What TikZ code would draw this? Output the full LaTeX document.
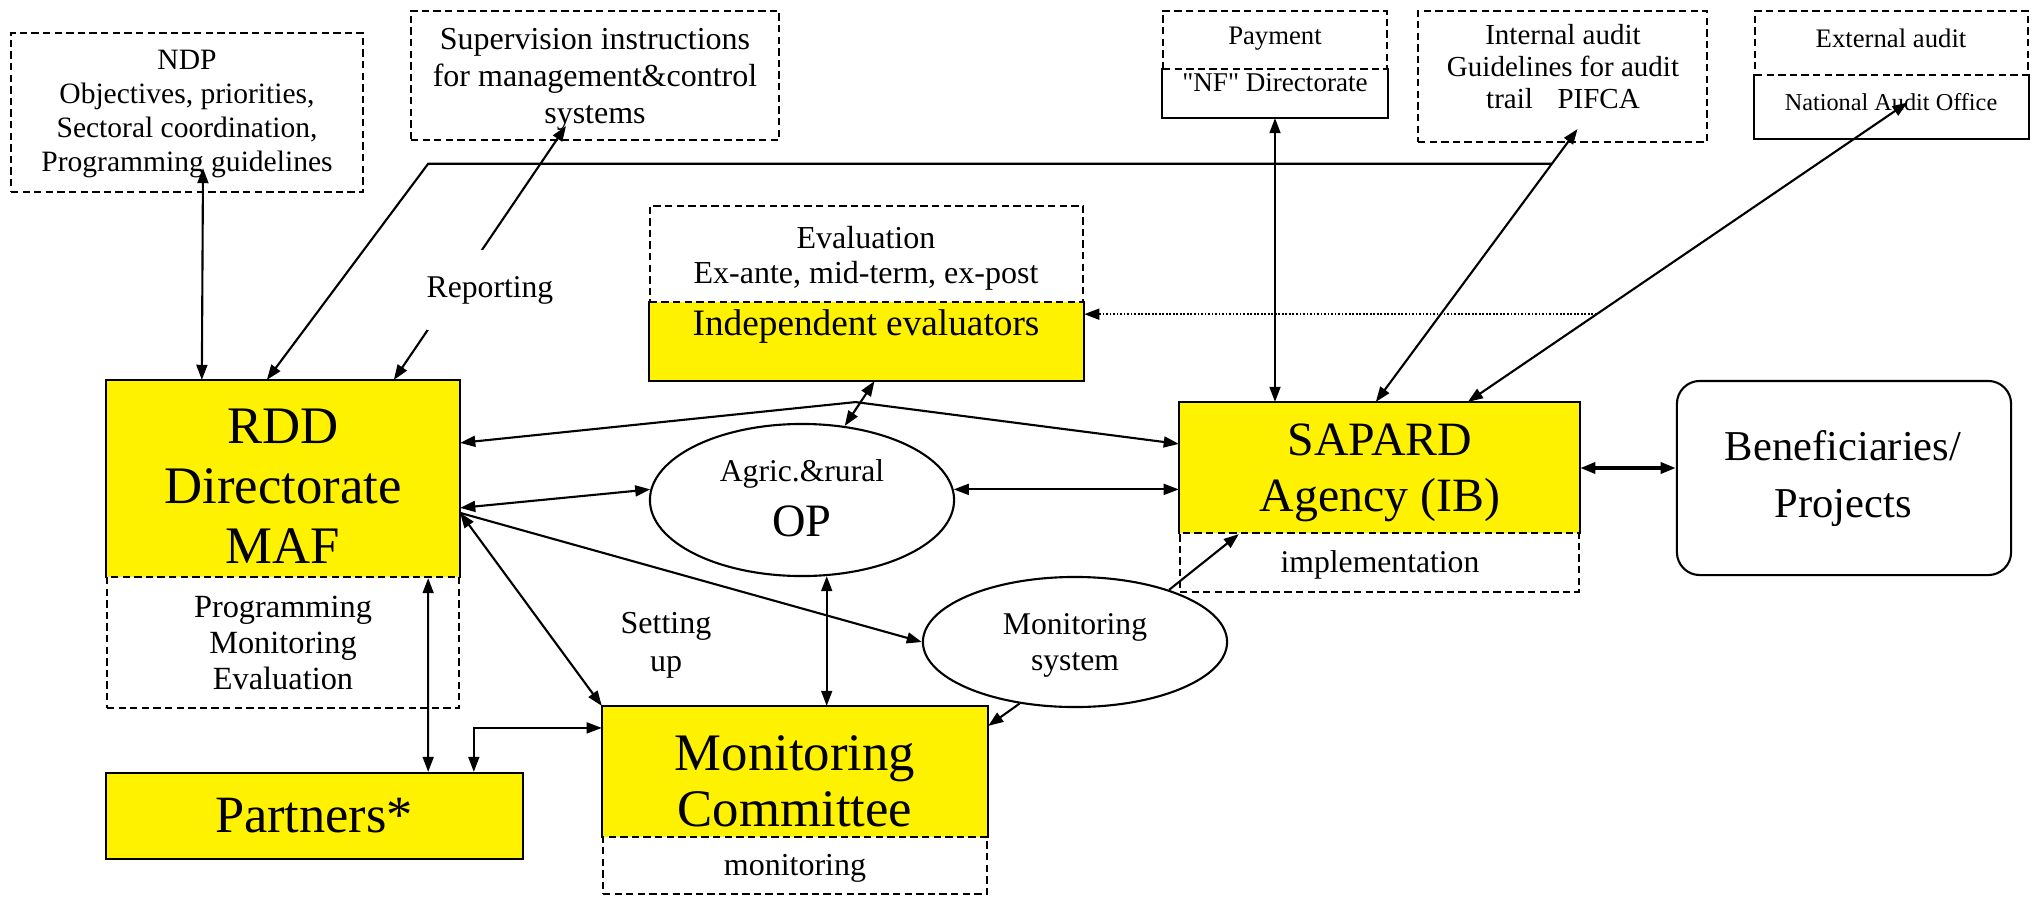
\documentclass[tikz,border=0pt]{standalone}
\usepackage{fontspec}
\setmainfont{Liberation Serif}
\usetikzlibrary{calc,shapes.geometric,arrows.meta}
\lineskiplimit=-20pt
\newcommand\setfs[2]{\fontsize{#1}{#2}\selectfont}

\begin{document}
\begin{tikzpicture}[x=0.01cm,y=-0.01cm,line width=0.6pt,
>={Triangle[length=4.3pt,width=3.1pt]},
dbox/.style={draw,dash pattern=on 2.1pt off 1.2pt,inner sep=0},
ybox/.style={fill=yellow,inner sep=0},
obox/.style={inner sep=0},
ell/.style={draw,ellipse,inner sep=0},
lab/.style={align=center,inner sep=0},
biarrow/.style={<->},
arrow/.style={->},
dotarrow/.style={->,dash pattern=on 0.5pt off 0.5pt}]
	\useasboundingbox (0,0) rectangle (2033,897);

	%top row
	\node[dbox,minimum width=3.52cm,minimum height=1.59cm] (ndp) at (187,112.5) {};
	\node[dbox,minimum width=3.68cm,minimum height=1.29cm] (sup) at (595,75.5) {};
	\node[dbox,minimum width=2.24cm,minimum height=0.58cm] (payup) at (1275,40) {};
	\node[obox,minimum width=2.24cm,minimum height=0.48cm] (paylow) at (1275,93) {};
	\node[dbox,minimum width=2.89cm,minimum height=1.31cm] (ia) at (1562.5,76.5) {};
	\node[dbox,minimum width=2.73cm,minimum height=0.64cm] (eaup) at (1891.5,43) {};
	\node[obox,minimum width=2.73cm,minimum height=0.63cm] (ealow) at (1891.5,106.5) {};
	%evaluators
	\node[ybox,minimum width=4.33cm,minimum height=0.78cm] (evalbox) at (866.5,341) {};
	\node[dbox,minimum width=4.33cm,minimum height=0.96cm] (evalhd) at (866.5,254) {};
	%main boxes
	\node[ybox,minimum width=3.52cm,minimum height=1.96cm] (rdd) at (283,479) {};
	\node[dbox,minimum width=3.52cm,minimum height=1.31cm] (rddsub) at (283,642.5) {};
	\node[ybox,draw,minimum width=4.17cm,minimum height=0.86cm] (par) at (314.5,816) {};
	\node[ybox,minimum width=3.84cm,minimum height=1.30cm] (com) at (795,772) {};
	\node[dbox,minimum width=3.84cm,minimum height=0.57cm] (comsub) at (795,865.5) {};
	\node[ell,minimum width=3.04cm,minimum height=1.52cm] (op) at (802,500) {};
	\node[ell,minimum width=3.04cm,minimum height=1.30cm] (mon) at (1075,642) {};
	\node[ybox,minimum width=3.99cm,minimum height=1.30cm] (sap) at (1379.5,468) {};
	\node[dbox,minimum width=3.99cm,minimum height=0.59cm] (sapsub) at (1379.5,562.5) {};
	\node[draw,rounded corners=6.5pt,inner sep=0,minimum width=3.34cm,minimum height=1.94cm] (ben) at (1844,478) {};

	\foreach \n in {rdd,com,sap} {
		\draw (\n.south west) |- (\n.north east) -- (\n.south east);
	}
	\foreach \n in {paylow,ealow,evalbox} {
		\draw (\n.north west) |- (\n.south east) -- (\n.north east);
	}

	%texts
	\node[lab,font=\setfs{8.4}{9.7}] (ndptxt) at (187,114) {NDP\\Objectives, priorities,\\Sectoral coordination,\\Programming guidelines};
	\node[lab,font=\setfs{9.1}{10.5}] (suptxt) at (595,79) {Supervision instructions\\for management\&control\\systems};
	\node[lab,font=\setfs{7.6}{9}] (paytxt) at (1275,39) {Payment};
	\node[lab,font=\setfs{7.7}{9}] (nftxt) at (1275,83) {\textquotedbl NF\textquotedbl{} Directorate};
	\node[lab,font=\setfs{8.25}{9.1}] (iatxt) at (1563,67) {Internal audit\\Guidelines for audit\\trail\hspace{7pt}PIFCA};
	\node[lab,font=\setfs{7.6}{9}] (eatxt) at (1891,38) {External audit};
	\node[lab,font=\setfs{6.9}{8}] (naotxt) at (1891,102) {National Audit Office};
	\node[lab,font=\setfs{9.1}{10}] (evaltxt) at (866,258) {Evaluation\\Ex-ante, mid-term, ex-post};
	\node[lab,font=\setfs{10.6}{12}] (evallab) at (866,327) {Independent evaluators};
	\node[lab,font=\setfs{15}{17}] (rddtxt) at (283,486) {RDD\\Directorate\\MAF};
	\node[lab,font=\setfs{9.2}{10.2}] (rddsubtxt) at (283,643) {Programming\\Monitoring\\Evaluation};
	\node[lab,font=\setfs{14.9}{17}] (partxt) at (314,816) {Partners*};
	\node[lab,font=\setfs{15}{16}] (comtxt) at (795,781) {Monitoring\\Committee};
	\node[lab,font=\setfs{9.1}{10}] (comsubtxt) at (795,868) {monitoring};
	\node[lab,font=\setfs{9}{10}] (optop) at (802,474) {Agric.\&rural};
	\node[lab,font=\setfs{13.2}{15}] (opbig) at (802,521) {OP};
	\node[lab,font=\setfs{9}{10.2}] (montxt) at (1075,645) {Monitoring\\system};
	\node[lab,font=\setfs{9.1}{10.8}] (setuptxt) at (666,645) {Setting\\up};
	\node[lab,font=\setfs{13.6}{15.8}] (saptxt) at (1380,473) {SAPARD\\Agency (IB)};
	\node[lab,font=\setfs{9}{10}] (sapsubtxt) at (1380,565) {implementation};
	\node[lab,font=\setfs{12.1}{16.2}] (bentxt) at (1843,479) {Beneficiaries/\\Projects};

	%audit and payment links
	\draw[biarrow] (paylow.south |- sap.north) -- (paylow.south);
	\draw[biarrow] ($(sap.north west)+(197,0)$) -- coordinate[pos=0.873] (iabr) ($(ia.south)+(15,-14)$);
	\draw[arrow] (iabr) -- ($(iabr -| rdd.north east)+(-32,0)$) -- ($(rdd.north west)+(161,0)$);
	\draw[biarrow] ($(sap.north west)+(289,0)$) -- coordinate[pos=0.293] (eabr) ($(ealow.center)+(16,-4)$);
	\draw[dotarrow] (eabr) -- (eabr -| evalbox.east);
	%programming
	\draw[biarrow] ($(rdd.north west)+(96,0)$) -- ($(ndp.south)+(16,-25)$);
	\draw[biarrow] ($(rdd.north west)+(288,0)$) -- ($(sup.south)+(-29,-15)$);
	\node[lab,font=\setfs{9}{10},fill=white,minimum height=0.8cm] (reptxt) at (490,290) {Reporting};
	%rdd links
	\coordinate (apex) at ($(evalbox.south)+(-11,21)$);
	\draw[biarrow] ($(rdd.north east)+(0,63)$) -- (apex) -- ($(sap.north west)+(0,42)$);
	\draw[biarrow] ($(evalbox.south)+(8,0)$) -- (op.60);
	\draw[biarrow] ($(rdd.north east)+(0,128)$) -- (op.176);
	\draw[biarrow] (op.4) -- (op.4 -| sap.west);
	\draw[biarrow,line width=1pt] (sap.east) -- (sap.east -| ben.west);
	\draw[biarrow] ($(rdd.north east)+(0,133)$) -- (com.north west);
	\draw[arrow] ($(rdd.north east)+(0,133)$) -- (mon.west);
	\draw[biarrow] (op.288) -- (op.288 |- com.north);
	\draw[arrow] (mon.228) -- ($(com.north east)+(0,20)$);
	\draw[arrow] (mon.29) -- ($(sap.south west)+(60,0)$);
	%partners
	\draw[biarrow] ($(rdd.south east)+(-32,0)$) -- ($(par.north east)+(-96,0)$);
	\draw[biarrow] ($(par.north west)+(369,0)$) |- ($(com.north west)+(0,22)$);

\end{tikzpicture}
\end{document}
